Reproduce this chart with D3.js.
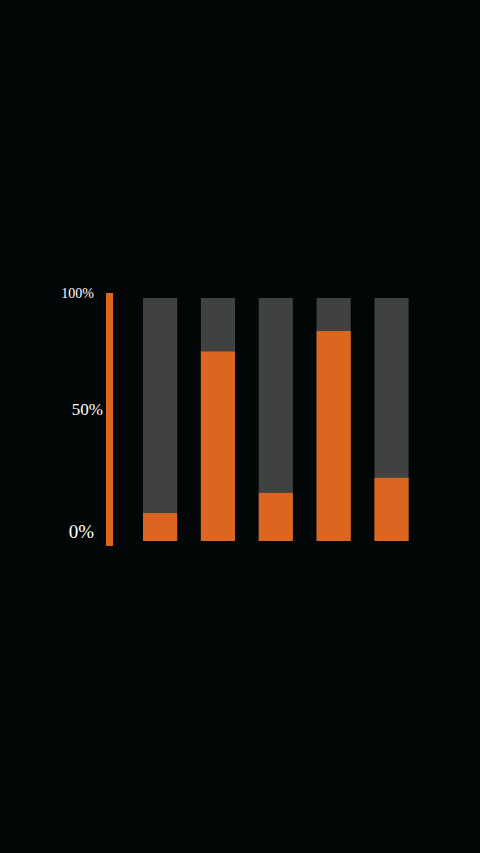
<!DOCTYPE html>
<html>
<head>
<meta charset="utf-8">
<script src="https://cdn.jsdelivr.net/npm/d3@7"></script>
<style>
  html, body { margin: 0; padding: 0; background: #020606; }
  svg { display: block; }
</style>
</head>
<body>
<svg id="chart" width="480" height="853"></svg>
<script>
// chart data
var categories = ['A', 'B', 'C', 'D', 'E'];
var shares = [11.5, 78, 19.8, 86.4, 26];
var tickValues = [0, 50, 100];
var tickLabels = ['0%', '50%', '100%'];

var width = 480,
    height = 853;

var svg = d3.select('#chart');

var xScale = d3.scaleBand()
  .domain(categories)
  .range([143, 408.6])
  .paddingInner(0.41)
  .paddingOuter(0);

var yScale = d3.scaleLinear()
  .domain([0, 100])
  .range([541, 298]);

// labels sit a little off the bar scale in the original
var labelScale = d3.scaleLinear()
  .domain([0, 100])
  .range([531, 293]);

var labelSizes = [19, 17, 14];

// orange axis line
svg.append('rect')
  .attr('x', 106)
  .attr('y', labelScale(100))
  .attr('width', 7)
  .attr('height', yScale(0) + 5 - labelScale(100))
  .attr('fill', '#dc6520');

// tick labels
svg.append('g')
  .selectAll('text')
  .data(tickValues)
  .enter()
  .append('text')
  .attr('x', function(d, i){ return i === 1 ? 103 : 94; })
  .attr('y', function(d, i){ return i === 1 ? 409 : labelScale(d); })
  .attr('text-anchor', 'end')
  .attr('dominant-baseline', 'central')
  .attr('fill', '#ffffff')
  .attr('font-family', '"Liberation Serif", "DejaVu Serif", serif')
  .attr('font-size', function(d, i){ return labelSizes[i]; })
  .text(function(d, i){ return tickLabels[i]; });

// gray background bars
svg.append('g')
  .selectAll('rect')
  .data(categories)
  .enter()
  .append('rect')
  .attr('x', function(d){ return xScale(d); })
  .attr('y', yScale(100))
  .attr('width', xScale.bandwidth())
  .attr('height', yScale(0) - yScale(100))
  .attr('fill', '#404141');

// orange share bars
svg.append('g')
  .selectAll('rect')
  .data(shares)
  .enter()
  .append('rect')
  .attr('x', function(d, i){ return xScale(categories[i]); })
  .attr('y', function(d){ return yScale(d); })
  .attr('width', xScale.bandwidth())
  .attr('height', function(d){ return yScale(0) - yScale(d); })
  .attr('fill', '#dc6520');
</script>
</body>
</html>
